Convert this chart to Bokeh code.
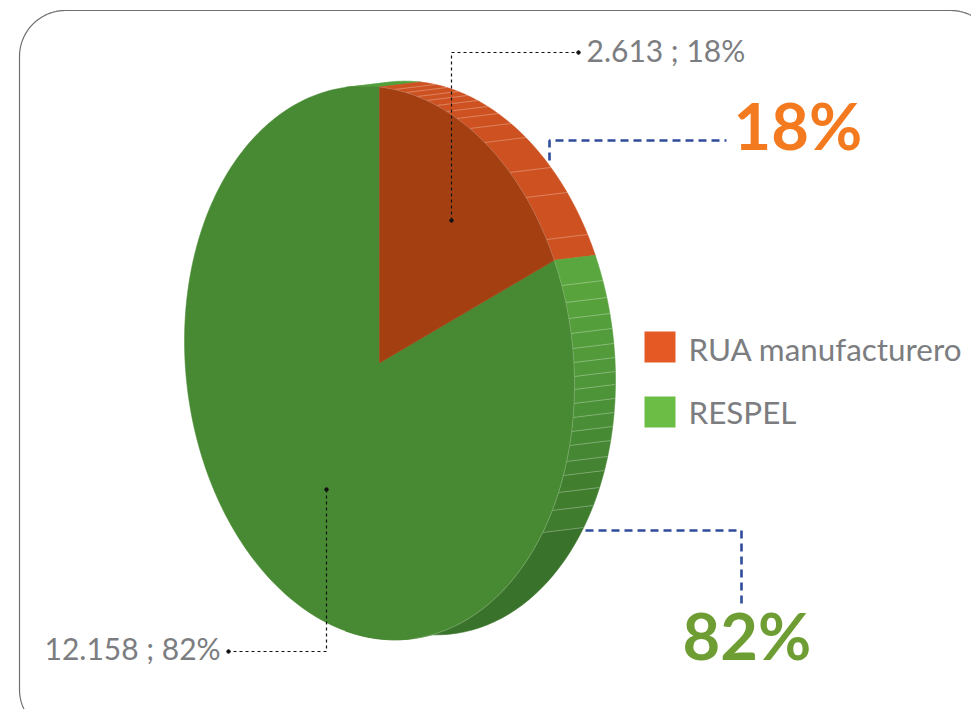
import numpy as np
from bokeh.plotting import figure
from bokeh.core.properties import value
from bokeh.embed import file_html
from bokeh.resources import INLINE

categories = ["RUA manufacturero", "RESPEL"]
values = [2613, 12158]
labels = ["2.613 ; 18%", "12.158 ; 82%"]
big_labels = ["18%", "82%"]
legend_colors = ["#E55A24", "#6CBD45"]
face_colors = ["#A43F12", "#488A33"]
wall_orange = "#CE5221"
wall_green_stops = ["#5CA83F", "#4C9238", "#417F2F", "#39722A"]
# screen heights of the thin facet lines on the outer rim
orange_rim_y = [234, 192, 167, 137, 123, 113, 106, 100, 95, 91, 87, 84]
green_rim_y = [280, 297, 313, 328, 343, 357, 371, 384, 398, 412, 426, 440, 456, 470, 487, 505, 527]

W, H = 971, 709
p = figure(width=W, height=H, x_range=(0, 971), y_range=(709, 0),
           output_backend="svg", toolbar_location=None, min_border=0,
           outline_line_color=None, background_fill_color="white")
p.axis.visible = False
p.grid.visible = False

CX, CY, A, B, C = 379.0, 362.5, 195.0, 276.0, 22.0
DX, DY = 41.0, -5.0


def front(t):
    t = np.radians(t)
    return CX + A * np.sin(t), CY - B * np.cos(t) + C * np.sin(t)


def back(t):
    x, y = front(t)
    return x + DX, y + DY


def rim_angle(y, lo, hi):
    ts = np.linspace(lo, hi, 4000)
    return ts[np.argmin(np.abs(back(ts)[1] - y))]


# rounded frame
fx0, fy0, fx1, fy1, r = 19, 10, 996, 735, 46
arc = np.linspace(0, np.pi / 2, 24)
frame_x = np.concatenate([fx0 + r - r * np.cos(arc), fx1 - r + r * np.sin(arc), fx1 - r + r * np.cos(arc), fx0 + r - r * np.sin(arc)])
frame_y = np.concatenate([fy0 + r - r * np.sin(arc), fy0 + r - r * np.cos(arc), fy1 - r + r * np.sin(arc), fy1 - r + r * np.cos(arc)])
p.patch(frame_x, frame_y, fill_color="white", line_color="#6f6f6f", line_width=1.2)

split = 360.0 * values[0] / sum(values)


def strip(t0, t1, color):
    ts = np.linspace(t0, t1, 30)
    fx, fy = front(ts)
    bx, by = back(ts)
    p.patch(np.concatenate([fx, bx[::-1]]), np.concatenate([fy, by[::-1]]),
            fill_color=color, line_color=color, line_width=0.6)


def mix(y):
    ys = [258, 400, 480, 620]
    rgb = np.array([[int(c[i:i + 2], 16) for i in (1, 3, 5)] for c in wall_green_stops], float)
    return "#%02x%02x%02x" % tuple(int(round(np.interp(y, ys, rgb[:, k]))) for k in range(3))


# walls, farthest first
strip(-10, 0, "#52A03C")
strip(0, split, wall_orange)
green_t = [split] + [rim_angle(y, split, 178) for y in green_rim_y] + [190]
for t0, t1 in zip(green_t[:-1], green_t[1:]):
    strip(t0, t1, mix(back((t0 + t1) / 2)[1]))

orange_t = [rim_angle(y, 0, split) for y in orange_rim_y]
for t in orange_t + green_t[1:-1]:
    fx, fy = front(t)
    bx, by = back(t)
    p.line([fx, bx], [fy, by], line_color="#ffffff", line_alpha=0.28, line_width=1)

# front faces
ts = np.linspace(split, 360, 240)
fx, fy = front(ts)
p.patch(np.r_[CX, fx], np.r_[CY, fy], fill_color=face_colors[1], line_color=face_colors[1], line_width=0.5)
ts = np.linspace(0, split, 80)
fx, fy = front(ts)
p.patch(np.r_[CX, fx], np.r_[CY, fy], fill_color=face_colors[0], line_color=face_colors[0], line_width=0.5)
ts = np.linspace(0, 170, 160)
fx, fy = front(ts)
p.line(fx, fy, line_color="#ffffff", line_alpha=0.2, line_width=1)

# leader lines
black_dash = dict(line_color="#111111", line_width=1.2, line_dash="3 3")
p.line([451, 451, 578], [220, 52, 52], **black_dash)
p.line([326, 326, 228], [489, 651, 651], **black_dash)
p.scatter([451, 578, 326, 228], [220, 52, 489, 651], size=3.5, color="#111111")
blue_dash = dict(line_color="#2F4B9B", line_width=2.6, line_dash="8 5")
p.line([549, 549, 726], [160, 140, 140], **blue_dash)
p.line([585, 741, 741], [530, 530, 605], **blue_dash)

gray = "#7C7D80"
font = value("Lato")
LS, BS = 30.0, 65
dy_s, dy_b = 0.4 * LS, 0.4 * BS
p.text([586], [61 - dy_s], text=[labels[0]], text_font=font, text_font_size=f"{LS}px", text_color=gray, text_baseline="alphabetic")
p.text([44], [659 - dy_s], text=[labels[1]], text_font=font, text_font_size=f"{LS}px", text_color=gray, text_baseline="alphabetic")
p.text([733], [150 - dy_b], text=[big_labels[0]], text_font=font, text_font_size=f"{BS}px", text_font_style="bold", text_color="#F47A20", text_baseline="alphabetic")
p.text([682], [660 - dy_b], text=[big_labels[1]], text_font=font, text_font_size=f"{BS}px", text_font_style="bold", text_color="#6E9E33", text_baseline="alphabetic")

# legend
p.quad(left=[644, 644], right=[675, 675], top=[331, 396], bottom=[362, 427],
       fill_color=legend_colors, line_color=None)
p.text([688, 688], [360 - dy_s, 423 - dy_s], text=categories, text_font=font, text_font_size="31.4px", text_color=gray, text_baseline="alphabetic")

open("out.html", "w").write(file_html(p, INLINE))
